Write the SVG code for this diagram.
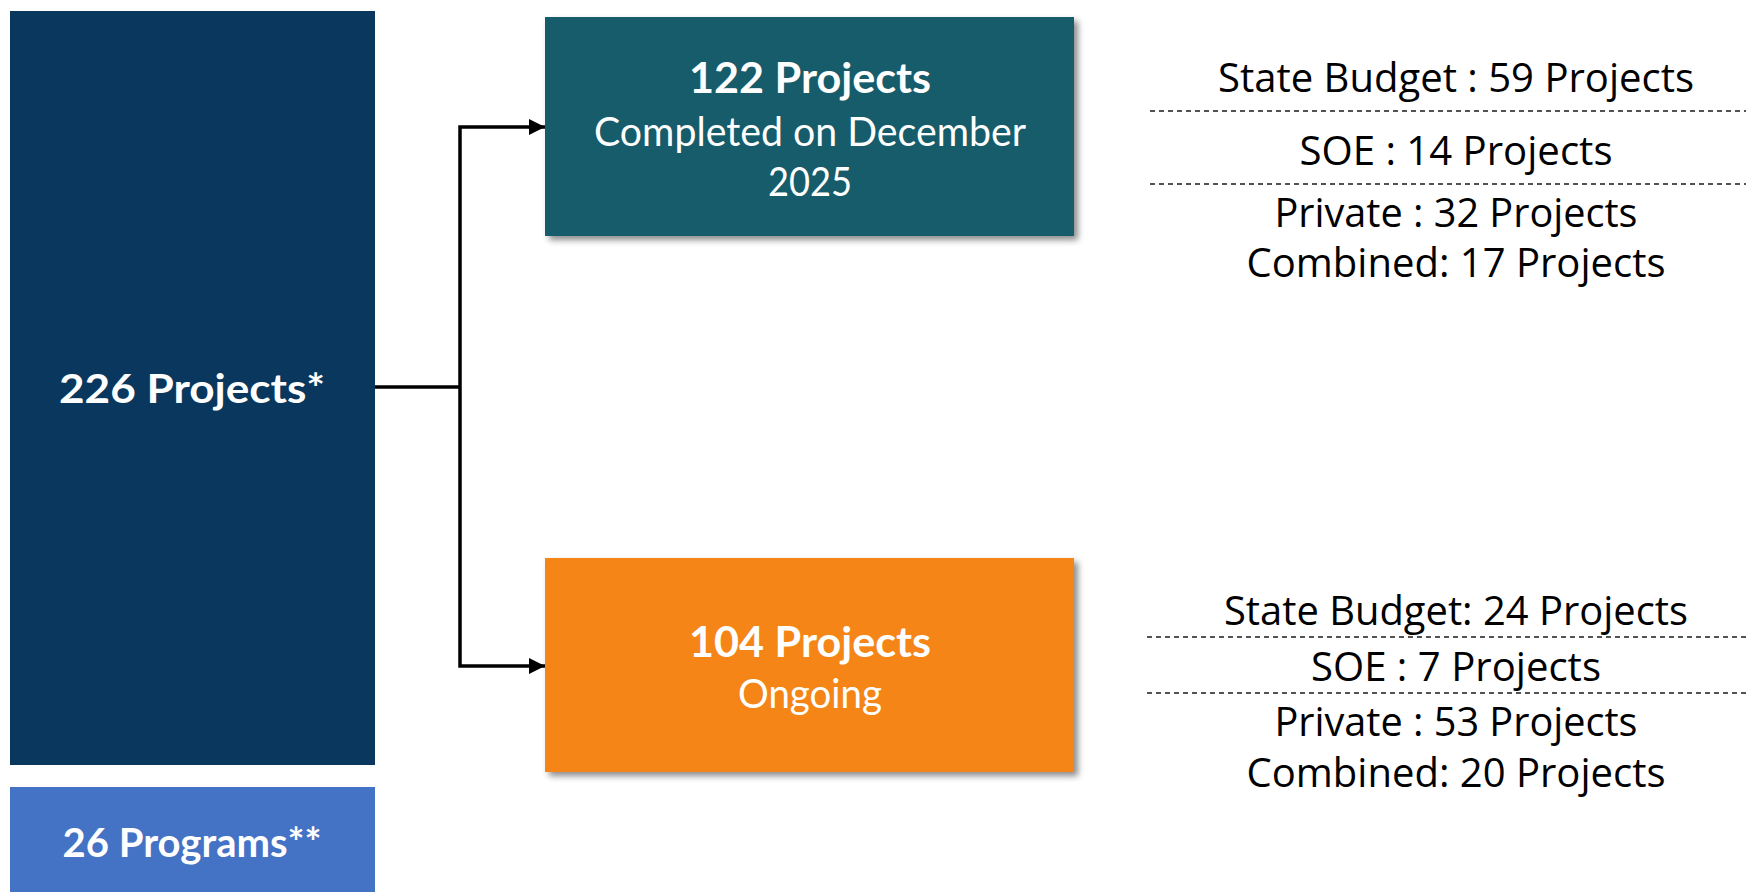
<svg xmlns="http://www.w3.org/2000/svg" width="1746" height="892" viewBox="0 0 1746 892">
<style>
.bt{font-family:Lato,"Liberation Sans",sans-serif;font-weight:bold;fill:#fff;text-anchor:middle}
.nt{font-family:Lato,"Liberation Sans",sans-serif;fill:#fff;text-anchor:middle}
.rt{font-family:"Open Sans","Noto Sans",sans-serif;fill:#000;text-anchor:middle}
.dash{stroke:#1a1a1a;stroke-width:1.3;stroke-dasharray:5 4;fill:none}
.conn{stroke:#000;stroke-width:3.5;fill:none}
</style>
<defs>
<filter id="sh" x="-5%" y="-5%" width="115%" height="120%">
<feDropShadow dx="4" dy="4" stdDeviation="3" flood-color="#000" flood-opacity="0.45"/>
</filter>
<marker id="arr" markerWidth="16" markerHeight="16" refX="16" refY="8" orient="auto" markerUnits="userSpaceOnUse">
<path d="M0,0 L16,8 L0,16 Z" fill="#000"/>
</marker>
</defs>
<rect width="1746" height="892" fill="#fff"/>
<g id="total">
<rect x="10" y="11" width="365" height="754" fill="#09375E"/>
<text class="bt" x="192" y="403" font-size="41" textLength="266" lengthAdjust="spacingAndGlyphs">226 Projects*</text>
</g>
<g id="programs">
<rect x="10" y="787" width="365" height="110" fill="#4472C4"/>
<text class="bt" x="192" y="857" font-size="41" textLength="259" lengthAdjust="spacingAndGlyphs">26 Programs**</text>
</g>
<g id="connectors">
<polyline class="conn" points="375,387 460,387"/>
<polyline class="conn" points="460,387 460,127 545,127" marker-end="url(#arr)"/>
<polyline class="conn" points="460,387 460,666 545,666" marker-end="url(#arr)"/>
</g>
<g id="completed">
<rect x="545" y="17" width="529" height="219" fill="#185C6A" filter="url(#sh)"/>
<text class="bt" x="810" y="93" font-size="42" textLength="242" lengthAdjust="spacingAndGlyphs">122 Projects</text>
<text class="nt" x="810" y="146" font-size="40" textLength="432" lengthAdjust="spacingAndGlyphs">Completed on December</text>
<text class="nt" x="810" y="196" font-size="40" textLength="84" lengthAdjust="spacingAndGlyphs">2025</text>
</g>
<g id="ongoing">
<rect x="545" y="558" width="529" height="214" fill="#F58518" filter="url(#sh)"/>
<text class="bt" x="810" y="657" font-size="42" textLength="242" lengthAdjust="spacingAndGlyphs">104 Projects</text>
<text class="nt" x="810" y="708" font-size="40" textLength="144" lengthAdjust="spacingAndGlyphs">Ongoing</text>
</g>
<g id="completed-breakdown">
<text class="rt" x="1456" y="92" font-size="40" textLength="476" lengthAdjust="spacingAndGlyphs">State Budget : 59 Projects</text>
<line class="dash" x1="1150" y1="111" x2="1746" y2="111"/>
<text class="rt" x="1456" y="165" font-size="40" textLength="313" lengthAdjust="spacingAndGlyphs">SOE : 14 Projects</text>
<line class="dash" x1="1150" y1="184" x2="1746" y2="184"/>
<text class="rt" x="1456" y="227" font-size="40" textLength="363" lengthAdjust="spacingAndGlyphs">Private : 32 Projects</text>
<text class="rt" x="1456" y="277" font-size="40" textLength="419" lengthAdjust="spacingAndGlyphs">Combined: 17 Projects</text>
</g>
<g id="ongoing-breakdown">
<text class="rt" x="1456" y="625" font-size="40" textLength="464" lengthAdjust="spacingAndGlyphs">State Budget: 24 Projects</text>
<line class="dash" x1="1147" y1="637" x2="1746" y2="637"/>
<text class="rt" x="1456" y="681" font-size="40" textLength="290" lengthAdjust="spacingAndGlyphs">SOE : 7 Projects</text>
<line class="dash" x1="1147" y1="693" x2="1746" y2="693"/>
<text class="rt" x="1456" y="736" font-size="40" textLength="363" lengthAdjust="spacingAndGlyphs">Private : 53 Projects</text>
<text class="rt" x="1456" y="787" font-size="40" textLength="419" lengthAdjust="spacingAndGlyphs">Combined: 20 Projects</text>
</g>
</svg>
